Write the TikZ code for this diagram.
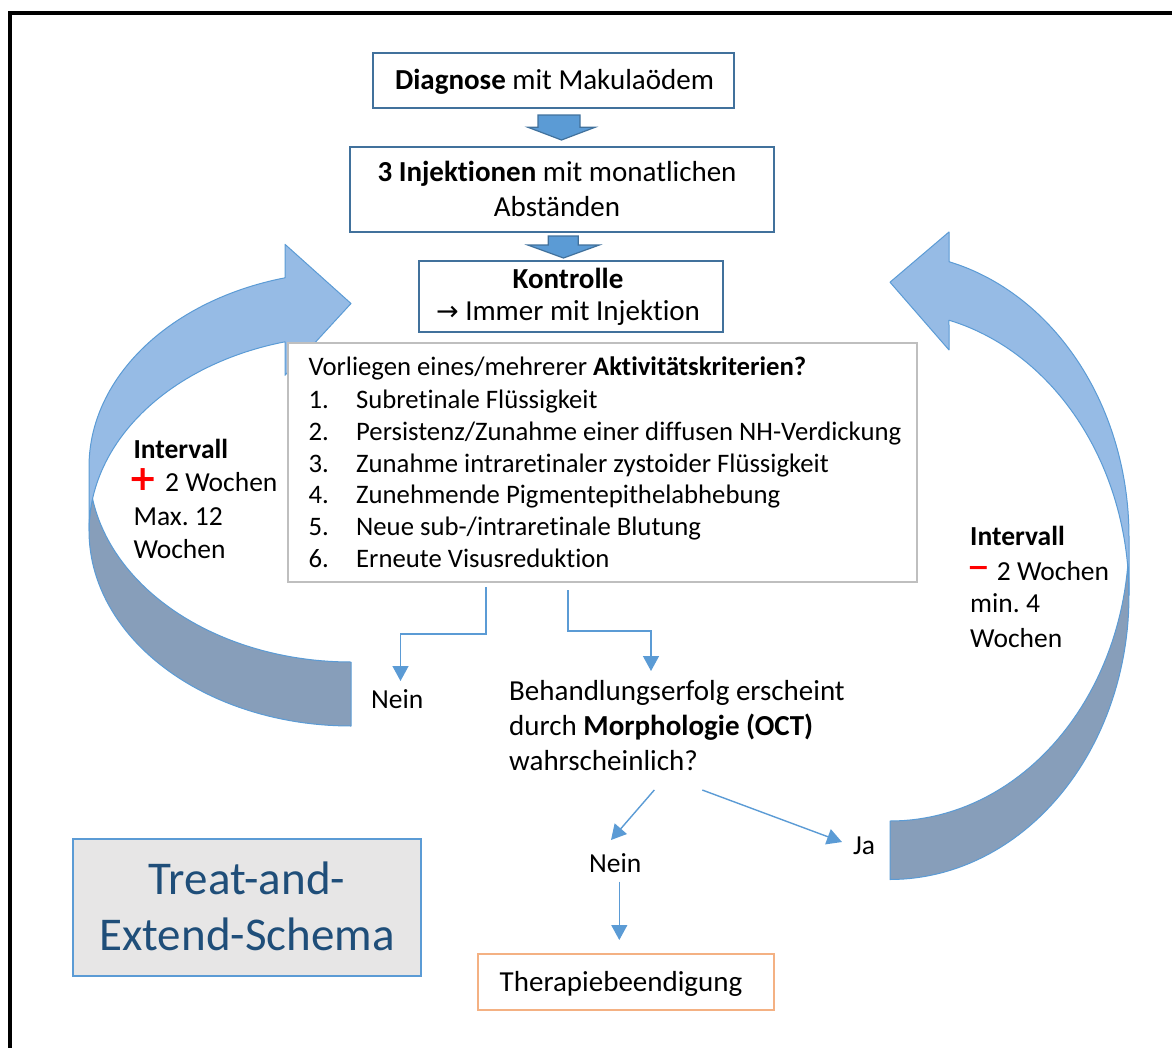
\documentclass[tikz,border=0pt]{standalone}
\usepackage{fontspec}
\setmainfont{Carlito}[Ligatures=NoCommon]
\newfontfamily\symbolfont{DejaVu Sans}
\usetikzlibrary{arrows.meta}
\frenchspacing

\definecolor{boxblue}{RGB}{65,113,156}
\definecolor{linkblue}{RGB}{91,155,213}
\definecolor{ribbonlight}{RGB}{150,187,229}
\definecolor{ribbondark}{RGB}{135,158,186}
\definecolor{critgray}{RGB}{191,191,191}
\definecolor{stoporange}{RGB}{244,177,131}
\definecolor{titlefill}{RGB}{231,230,230}
\definecolor{titleblue}{RGB}{31,78,121}
\definecolor{markred}{RGB}{255,0,0}

\tikzset{
  stepframe/.style={draw=boxblue, line width=2.2pt, fill=white, inner sep=0pt, rectangle},
  critframe/.style={draw=critgray, line width=2.2pt, fill=white, inner sep=0pt, rectangle},
  stopframe/.style={draw=stoporange, line width=2pt, fill=white, inner sep=0pt, rectangle},
  titleframe/.style={draw=linkblue, line width=2pt, fill=titlefill, inner sep=0pt, rectangle},
  big/.style={font=\fontsize{29pt}{35pt}\selectfont},
  mid/.style={font=\fontsize{27.5pt}{33pt}\selectfont},
  small/.style={font=\fontsize{26.7pt}{32pt}\selectfont},
  huge/.style={font=\fontsize{47pt}{57pt}\selectfont, text=titleblue},
  txt/.style={inner sep=0pt, anchor=base},
  txtl/.style={inner sep=0pt, anchor=base west},
  link/.style={draw=linkblue, line width=1.4pt, -{Triangle[width=16pt,length=15pt]}},
  blockarrow/.style={fill=linkblue, draw=boxblue, line width=1.2pt, line join=miter},
  lightband/.style={fill=ribbonlight, draw=linkblue, line width=1pt, line join=round},
  darkband/.style={fill=ribbondark, draw=linkblue, line width=1pt, line join=round},
}

\begin{document}
\begin{tikzpicture}[x=1pt, y=-1pt]
\useasboundingbox (0,0) rectangle (1172,1047);
\clip (0,0) rectangle (1172,1047);

% outer frame (runs past the page on the right and bottom)
\draw[line width=4pt] (10.3,13) rectangle (1200,1080);

% ---------- left loop: interval extension ----------
\path[darkband]
  plot[domain=90:170.57, samples=50, variable=\t] ({351+262*cos(\t)}, {466.75+195.25*sin(\t)})
  -- plot[domain=189.43:90, samples=60, variable=\t] ({351+262*cos(\t)}, {530.75+195.25*sin(\t)})
  -- cycle;
\path[lightband]
  plot[domain=180:255.41, samples=60, variable=\t] ({351+262*cos(\t)}, {530.75+195.25*sin(\t)})
  -- (285,375.3) -- (351,303.5) -- (285,244.3) -- (285,277.8)
  -- plot[domain=255.41:180, samples=60, variable=\t] ({351+262*cos(\t)}, {466.75+195.25*sin(\t)})
  -- cycle;

% ---------- right loop: interval reduction ----------
\path[darkband]
  plot[domain=90:5.91, samples=50, variable=\t] ({890+239*cos(\t)}, {536.95+284.05*sin(\t)})
  -- plot[domain=-5.91:90, samples=60, variable=\t] ({890+239*cos(\t)}, {595.45+284.05*sin(\t)})
  -- cycle;
\path[lightband]
  plot[domain=0:-75.71, samples=60, variable=\t] ({890+239*cos(\t)}, {595.45+284.05*sin(\t)})
  -- (949,349.95) -- (890,282.2) -- (949,231.95) -- (949,261.7)
  -- plot[domain=-75.71:0, samples=60, variable=\t] ({890+239*cos(\t)}, {536.95+284.05*sin(\t)})
  -- cycle;

% ---------- main steps ----------
\node[stepframe, minimum width=361pt, minimum height=55pt] (diag) at (553.5,80.5) {};
\node[txt, big] (diagtxt) at (554.5,89) {\textbf{Diagnose} mit Makulaödem};

\node[stepframe, minimum width=424pt, minimum height=85pt] (inj) at (562,189.5) {};
\node[txt, big] (injtxta) at (557,181) {\textbf{3 Injektionen} mit monatlichen};
\node[txt, big] (injtxtb) at (557,216.5) {Abständen};

\node[stepframe, minimum width=304pt, minimum height=71pt] (ctrl) at (571,296.5) {};
\node[txt, big] (ctrltxta) at (568,288.3) {\textbf{Kontrolle}};
\node[txt, big] (ctrltxtb) at (568,320) {{\symbolfont\fontsize{27pt}{30pt}\selectfont →} Immer mit Injektion};

% block arrows between the steps
\path[blockarrow] (538,115) -- (580,115) -- (580,127.3) -- (595,127.3) -- (561.5,140)
  -- (528,127.3) -- (538,127.3) -- cycle;
\path[blockarrow] (548.3,236) -- (578.3,236) -- (578.3,245) -- (599.3,245) -- (563.5,258)
  -- (527.7,245) -- (548.3,245) -- cycle;

% ---------- activity criteria ----------
\node[critframe, minimum width=629pt, minimum height=239pt] (crit) at (602.5,462.5) {};
\node[txtl, small] (crit0) at (308.3,375) {Vorliegen eines/mehrerer \textbf{Aktivitätskriterien?}};
\foreach \k/\item in {1/{Subretinale Flüssigkeit},
                      2/{Persistenz/Zunahme einer diffusen NH-Verdickung},
                      3/{Zunahme intraretinaler zystoider Flüssigkeit},
                      4/{Zunehmende Pigmentepithelabhebung},
                      5/{Neue sub-/intraretinale Blutung},
                      6/{Erneute Visusreduktion}}{
  \node[txtl, small] (num\k) at (308.3,{408.3+31.85*(\k-1)}) {\k.};
  \node[txtl, small] (crit\k) at (356,{408.3+31.85*(\k-1)}) {\item};
}

% ---------- interval labels ----------
\node[txtl, mid] (lefthead) at (133.3,458.3) {\textbf{Intervall}};
\node[inner sep=0pt, anchor=north, text=markred, font=\symbolfont\bfseries\fontsize{35pt}{35pt}\selectfont] (plusmark) at (142.8,468.5) {+};
\node[txtl, mid] (leftstep) at (165,491.7) {2 Wochen};
\node[txtl, mid] (leftmax) at (133.3,525) {Max. 12};
\node[txtl, mid] (leftunit) at (133.3,558.3) {Wochen};

\node[txtl, mid] (righthead) at (970,545.4) {\textbf{Intervall}};
\node[inner sep=0pt, anchor=north, text=markred, font=\symbolfont\bfseries\fontsize{27pt}{27pt}\selectfont] (minusmark) at (978.5,566.3) {−};
\node[txtl, mid] (rightstep) at (996.7,580) {2 Wochen};
\node[txtl, mid] (rightmin) at (970,612.6) {min. 4};
\node[txtl, mid] (rightunit) at (970,647) {Wochen};

% ---------- decision branch ----------
\node[txtl, mid] (nein1) at (371,708.3) {Nein};
\node[txtl, big] (q1) at (509,700.7) {Behandlungserfolg erscheint};
\node[txtl, big] (q2) at (509,735.7) {durch \textbf{Morphologie (OCT)}};
\node[txtl, big] (q3) at (509,770.7) {wahrscheinlich?};
\node[txtl, mid] (nein2) at (589,872.7) {Nein};
\node[txtl, mid] (ja) at (853,854) {Ja};

\node[stopframe, minimum width=296pt, minimum height=56pt] (stop) at (626,982) {};
\node[txt, big] (stoptxt) at (621,991.7) {Therapiebeendigung};

\coordinate (critoutL) at (486,587);
\coordinate (critoutR) at (568,590);
\coordinate (neinin) at (400.5,681);
\coordinate (qin) at (651,671);
\coordinate (qoutL) at (654.3,790);
\coordinate (qoutR) at (702.3,790);
\coordinate (neintip) at (611,840);
\coordinate (jatip) at (842,842);
\coordinate (neinout) at (619.3,881.7);
\coordinate (stopin) at (619.3,940);

\draw[link] (critoutL) -- (critoutL |- 0,634) -- (neinin |- 0,634) -- (neinin);
\draw[link] (critoutR) -- (critoutR |- 0,631) -- (qin |- 0,631) -- (qin);
\draw[link] (qoutL) -- (neintip);
\draw[link] (qoutR) -- (jatip);
\draw[link] (neinout) -- (stopin);

% ---------- title ----------
\node[titleframe, minimum width=348pt, minimum height=137pt] (title) at (247,907.5) {};
\node[txt, huge] (titlea) at (247,894) {Treat-and-};
\node[txt, huge] (titleb) at (247,950.7) {Extend-Schema};

\end{tikzpicture}
\end{document}
